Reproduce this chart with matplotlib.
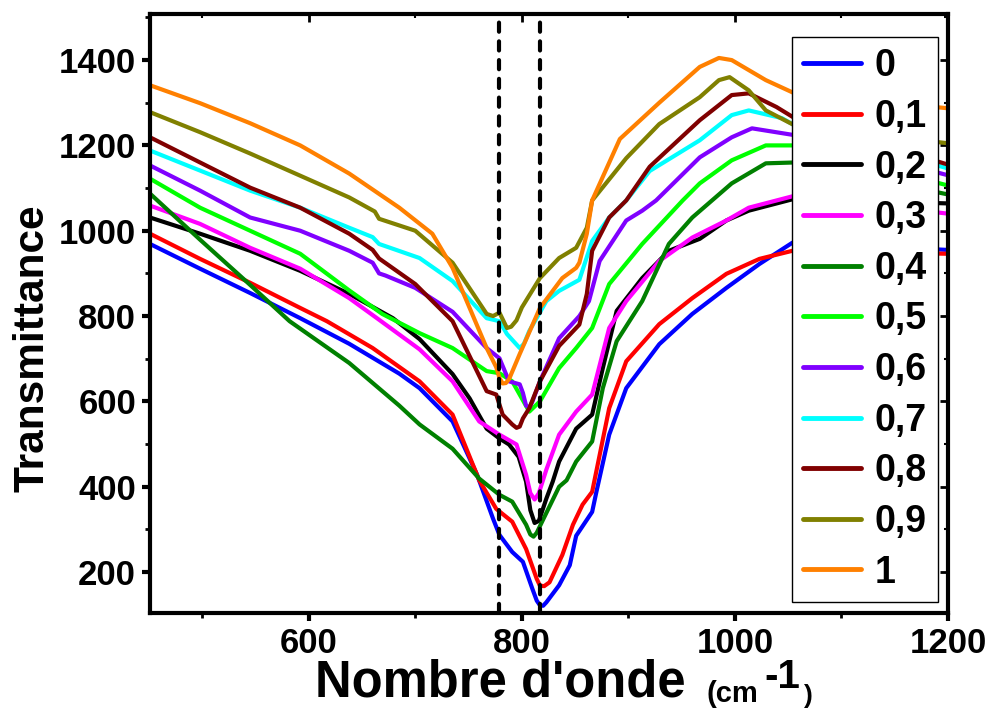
import numpy as np
import matplotlib
matplotlib.use('Agg')
import matplotlib.pyplot as plt
from matplotlib.ticker import MultipleLocator

plt.rcParams['font.family'] = ['Liberation Sans', 'DejaVu Sans']
plt.rcParams['font.weight'] = 'bold'

# series (x = wavenumber, y = transmittance)
x_0 = [451, 498, 545, 592, 638, 685, 704, 735, 758, 773, 779, 791, 801, 810, 814, 817, 820, 823, 835, 845, 851, 866, 870, 882, 898, 929, 960, 992, 1023, 1054, 1200]
y_0 = [969, 911, 854, 795, 735, 665, 631, 553, 428, 325, 287, 247, 224, 160, 133, 122, 121, 129, 169, 216, 285, 341, 388, 522, 631, 734, 805, 866, 922, 972, 955]

x_01 = [451, 498, 545, 592, 617, 660, 704, 735, 760, 776, 791, 804, 814, 817, 821, 826, 838, 848, 857, 866, 882, 898, 929, 960, 992, 1023, 1054, 1200]
y_01 = [993, 934, 878, 819, 788, 725, 647, 569, 415, 348, 318, 254, 184, 168, 167, 176, 240, 311, 358, 388, 584, 694, 781, 842, 899, 934, 953, 946]

x_02 = [451, 498, 545, 592, 638, 679, 704, 735, 751, 767, 779, 788, 797, 804, 808, 812, 816, 823, 829, 835, 851, 866, 876, 889, 913, 938, 967, 992, 1013, 1056, 1200]
y_02 = [1031, 993, 953, 906, 852, 795, 746, 664, 607, 536, 513, 499, 470, 412, 345, 315, 320, 372, 412, 459, 536, 569, 678, 812, 889, 953, 981, 1024, 1047, 1075, 1064]

x_03 = [451, 498, 545, 592, 638, 664, 704, 735, 760, 779, 795, 804, 808, 812, 816, 823, 835, 851, 866, 882, 898, 929, 960, 992, 1013, 1056, 1200]
y_03 = [1059, 1016, 960, 911, 842, 795, 722, 647, 553, 522, 499, 428, 385, 370, 385, 440, 522, 576, 616, 772, 835, 929, 984, 1024, 1054, 1082, 1040]

x_04 = [451, 498, 545, 582, 638, 685, 704, 735, 760, 779, 791, 804, 808, 811, 814, 819, 835, 842, 851, 866, 876, 889, 913, 938, 960, 997, 1029, 1056, 1200]
y_04 = [1087, 979, 873, 788, 690, 590, 546, 489, 419, 381, 365, 311, 288, 283, 292, 318, 400, 415, 459, 506, 631, 741, 835, 969, 1031, 1111, 1158, 1160, 1085]

x_05 = [451, 498, 545, 592, 638, 669, 704, 735, 767, 779, 791, 807, 817, 835, 851, 866, 882, 913, 951, 967, 997, 1029, 1056, 1200]
y_05 = [1122, 1054, 1000, 946, 860, 805, 760, 725, 671, 666, 647, 576, 600, 678, 725, 772, 875, 969, 1071, 1111, 1165, 1200, 1200, 1106]

x_06 = [451, 498, 545, 592, 638, 660, 666, 672, 700, 735, 767, 779, 788, 798, 801, 804, 807, 810, 817, 835, 854, 863, 873, 898, 913, 926, 967, 997, 1016, 1056, 1200]
y_06 = [1153, 1094, 1031, 1000, 953, 925, 900, 895, 866, 810, 725, 701, 647, 640, 620, 590, 585, 600, 647, 748, 800, 835, 929, 1024, 1047, 1071, 1172, 1219, 1240, 1224, 1130]

x_07 = [451, 498, 545, 592, 638, 660, 666, 704, 735, 767, 779, 786, 798, 802, 807, 823, 835, 854, 866, 882, 898, 920, 967, 997, 1013, 1044, 1056, 1200]
y_07 = [1188, 1141, 1094, 1054, 1007, 985, 969, 936, 882, 795, 788, 758, 725, 735, 765, 835, 859, 885, 976, 1031, 1071, 1140, 1212, 1271, 1282, 1264, 1247, 1146]

x_08 = [451, 498, 545, 592, 638, 660, 666, 700, 735, 767, 776, 782, 791, 795, 798, 801, 807, 817, 835, 854, 861, 866, 882, 898, 920, 967, 997, 1013, 1039, 1056, 1200]
y_08 = [1219, 1160, 1101, 1054, 993, 955, 935, 875, 788, 624, 616, 569, 546, 538, 541, 560, 584, 647, 730, 780, 852, 953, 1031, 1071, 1150, 1259, 1318, 1322, 1290, 1264, 1155]

x_09 = [451, 498, 545, 592, 638, 662, 666, 700, 735, 767, 773, 779, 786, 790, 795, 800, 817, 835, 851, 861, 866, 898, 929, 967, 985, 995, 1013, 1029, 1056, 1200]
y_09 = [1278, 1231, 1181, 1129, 1078, 1045, 1028, 1000, 925, 805, 800, 808, 772, 775, 790, 820, 889, 936, 960, 1007, 1071, 1170, 1250, 1313, 1353, 1360, 1329, 1282, 1247, 1205]

x_1 = [451, 498, 545, 592, 638, 685, 716, 735, 767, 776, 779, 782, 785, 788, 798, 817, 838, 851, 854, 861, 866, 892, 929, 967, 985, 997, 1029, 1056, 1200]
y_1 = [1341, 1299, 1252, 1200, 1134, 1054, 993, 913, 725, 680, 655, 642, 643, 652, 711, 819, 889, 913, 925, 993, 1071, 1215, 1300, 1384, 1405, 1400, 1353, 1322, 1287]

labels = ['0', '0,1', '0,2', '0,3', '0,4', '0,5', '0,6', '0,7', '0,8', '0,9', '1']
colors = ['#0000FF', '#FF0000', '#000000', '#FF00FF', '#008000', '#00FF00',
          '#8000FF', '#00FFFF', '#800000', '#808000', '#FF8000']
xs = [x_0, x_01, x_02, x_03, x_04, x_05, x_06, x_07, x_08, x_09, x_1]
ys = [y_0, y_01, y_02, y_03, y_04, y_05, y_06, y_07, y_08, y_09, y_1]

band = [779, 817]

fig = plt.figure(figsize=(9.88, 7.09), dpi=100)
ax = fig.add_axes([150/988, 96/709, 798/988, 599/709])

for x, y, c, lab in zip(xs, ys, colors, labels):
    ax.plot(x, y, color=c, lw=3, label=lab, solid_capstyle='round', solid_joinstyle='round')

for b in band:
    ax.axvline(b, color='black', lw=3, dashes=(2.2, 2.3), dash_capstyle='round', zorder=5)

ax.set_xlim(451, 1200)
ax.set_ylim(104, 1508)
ax.xaxis.set_major_locator(MultipleLocator(200))
ax.xaxis.set_minor_locator(MultipleLocator(100))
ax.yaxis.set_minor_locator(MultipleLocator(100))
ax.set_yticks([200, 400, 600, 800, 1000, 1200, 1400])

for s in ax.spines.values():
    s.set_linewidth(3)
ax.tick_params(which='major', direction='out', length=6, width=3, labelsize=25, pad=4)
ax.tick_params(which='minor', direction='out', length=3.5, width=2)

# inward ticks on top and right, like the original
sx = ax.secondary_xaxis('top')
sx.xaxis.set_major_locator(MultipleLocator(200))
sx.xaxis.set_minor_locator(MultipleLocator(100))
sx.tick_params(which='major', direction='in', length=6, width=2, labeltop=False)
sx.tick_params(which='minor', direction='in', length=3, width=1.5)
sy = ax.secondary_yaxis('right')
sy.yaxis.set_major_locator(MultipleLocator(200))
sy.yaxis.set_minor_locator(MultipleLocator(100))
sy.tick_params(which='major', direction='in', length=6, width=2, labelright=False)
sy.tick_params(which='minor', direction='in', length=3, width=1.5)

leg = ax.legend(loc='upper right', bbox_to_anchor=(0.9875, 0.9616), fontsize=27,
                frameon=True, fancybox=False, edgecolor='black', framealpha=1,
                handlelength=1.55, handletextpad=0.35, labelspacing=0.39,
                borderpad=0.3, borderaxespad=0)
leg.get_frame().set_linewidth(1)
for line in leg.get_lines():
    line.set_linewidth(3.5)

fig.text(32/988, 1 - 348/709, 'Transmittance', rotation=90, ha='center', va='center',
         fontsize=30.5, fontweight='bold')
fig.text(315/988, 0.002, "Nombre d'onde", ha='left', va='bottom',
         fontsize=36.5, fontweight='bold')
fig.text(706/988, 0.002, '(cm', ha='left', va='bottom', fontsize=21, fontweight='bold')
fig.text(764/988, 1 - 688/709, '-1', ha='left', va='baseline', fontsize=29, fontweight='bold')
fig.text(804/988, 0.002, ')', ha='left', va='bottom', fontsize=19, fontweight='bold')

fig.savefig('out.png', dpi=100)
